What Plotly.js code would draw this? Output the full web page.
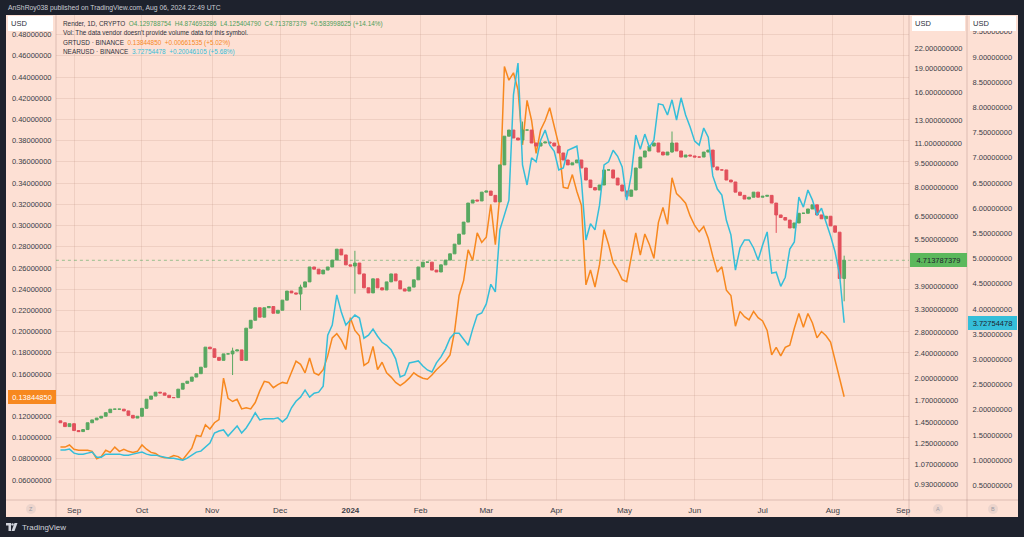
<!DOCTYPE html>
<html>
<head>
<meta charset="utf-8">
<script src="https://cdn.plot.ly/plotly-3.0.1.min.js"></script>
<style>
  html, body { margin: 0; padding: 0; background: #1e222d; }
  #chart { width: 1024px; height: 537px; }
</style>
</head>
<body>
<div id="chart"></div>
<script>
// Render (velas cada 2 dias, escala log) + GRT y NEAR como lineas de comparacion
const START_DATE = '2023-08-26';
const STEP_DAYS = 2;

const renderFirstOpen = 1.47;
const renderClose = [
  1.45, 1.41, 1.44, 1.37, 1.36, 1.38, 1.45, 1.48, 1.50, 1.52,
  1.56, 1.60, 1.60, 1.60, 1.58, 1.53, 1.50, 1.52, 1.61, 1.72,
  1.76, 1.81, 1.80, 1.77, 1.74, 1.74, 1.85, 1.93, 1.96, 2.02,
  2.07, 2.17, 2.51, 2.48, 2.33, 2.28, 2.39, 2.39, 2.44, 2.46,
  2.28, 2.88, 3.05, 3.34, 3.12, 3.34, 3.37, 3.21, 3.28, 3.53,
  3.77, 3.72, 3.69, 3.88, 4.03, 4.49, 4.42, 4.27, 4.39, 4.49,
  4.72, 5.11, 4.90, 4.56, 4.52, 4.62, 4.27, 3.86, 3.72, 4.12,
  3.86, 3.80, 4.03, 4.27, 4.06, 3.83, 3.77, 3.88, 4.09, 4.49,
  4.65, 4.65, 4.39, 4.33, 4.56, 4.72, 4.94, 5.30, 5.70, 6.22,
  7.14, 7.30, 7.25, 7.73, 7.79, 7.55, 7.20, 9.42, 11.60, 12.13,
  11.45, 11.28, 12.13, 12.13, 11.04, 10.80, 11.04, 11.12, 11.04, 10.80,
  10.27, 9.76, 9.42, 9.56, 9.76, 9.21, 8.44, 7.99, 7.85, 8.14,
  9.08, 9.08, 8.56, 8.14, 7.79, 7.50, 7.85, 9.21, 9.97, 10.42,
  10.80, 11.04, 10.34, 10.12, 10.34, 11.04, 10.42, 9.97, 10.12, 10.05,
  9.97, 9.97, 10.34, 10.49, 9.28, 9.08, 9.08, 8.44, 8.32, 7.73,
  7.55, 7.35, 7.45, 7.73, 7.45, 7.50, 7.55, 7.14, 6.55, 6.43,
  6.31, 5.96, 6.18, 6.63, 6.63, 6.84, 7.05, 6.55, 6.37, 6.49,
  6.05, 5.78, 4.13, 4.713787379
];
// mechas visibles [alto, bajo]
const renderWicks = {
  '2023-11-10': [2.50, 2.05],
  '2023-12-10': [3.95, 3.28],
  '2024-01-03': [5.05, 3.70],
  '2024-03-17': [12.9, 11.0],
  '2024-05-22': [12.0, 10.3],
  '2024-07-07': [7.0, 5.75],
  '2024-08-06': [4.874693286, 3.50]
};

const grtClose = [
  0.091, 0.091, 0.093, 0.089, 0.088, 0.088, 0.088, 0.087, 0.080, 0.082,
  0.088, 0.086, 0.091, 0.087, 0.089, 0.087, 0.086, 0.087, 0.093, 0.089,
  0.086, 0.085, 0.082, 0.081, 0.081, 0.083, 0.082, 0.079, 0.085, 0.090,
  0.102, 0.101, 0.112, 0.108, 0.114, 0.117, 0.156, 0.137, 0.134, 0.136,
  0.127, 0.128, 0.127, 0.133, 0.144, 0.153, 0.152, 0.147, 0.150, 0.152,
  0.151, 0.162, 0.172, 0.169, 0.161, 0.175, 0.161, 0.159, 0.164, 0.177,
  0.194, 0.198, 0.192, 0.183, 0.213, 0.201, 0.196, 0.168, 0.171, 0.186,
  0.164, 0.171, 0.161, 0.157, 0.152, 0.149, 0.152, 0.156, 0.161, 0.158,
  0.156, 0.155, 0.159, 0.164, 0.168, 0.172, 0.178, 0.200, 0.234, 0.248,
  0.277, 0.267, 0.293, 0.284, 0.289, 0.320, 0.282, 0.329, 0.450, 0.437,
  0.444, 0.428, 0.376, 0.418, 0.399, 0.368, 0.390, 0.399, 0.411, 0.392,
  0.376, 0.336, 0.335, 0.348, 0.332, 0.319, 0.244, 0.258, 0.242, 0.263,
  0.296, 0.282, 0.265, 0.258, 0.249, 0.247, 0.270, 0.293, 0.272, 0.292,
  0.282, 0.269, 0.303, 0.317, 0.301, 0.345, 0.330, 0.326, 0.321, 0.309,
  0.300, 0.294, 0.299, 0.288, 0.271, 0.256, 0.261, 0.239, 0.234, 0.205,
  0.219, 0.214, 0.211, 0.219, 0.213, 0.210, 0.201, 0.178, 0.185, 0.177,
  0.185, 0.187, 0.203, 0.217, 0.204, 0.217, 0.208, 0.194, 0.200, 0.196,
  0.190, 0.173, 0.154, 0.13844850
];

const nearClose = [
  1.20, 1.20, 1.22, 1.14, 1.12, 1.12, 1.14, 1.16, 1.06, 1.06,
  1.12, 1.12, 1.12, 1.12, 1.10, 1.10, 1.12, 1.14, 1.16, 1.12,
  1.10, 1.10, 1.08, 1.06, 1.04, 1.04, 1.02, 1.00, 1.04, 1.10,
  1.16, 1.18, 1.26, 1.34, 1.54, 1.58, 1.60, 1.48, 1.58, 1.68,
  1.54, 1.64, 1.78, 1.94, 1.80, 1.82, 1.82, 1.82, 1.84, 1.76,
  1.84, 2.04, 2.17, 2.25, 2.39, 2.25, 2.33, 2.35, 2.47, 3.48,
  3.68, 4.28, 3.94, 3.68, 3.78, 3.88, 3.82, 3.42, 3.48, 3.60,
  3.46, 3.34, 3.28, 3.19, 3.01, 2.65, 2.69, 2.93, 2.95, 2.97,
  2.87, 2.79, 2.75, 2.93, 3.05, 3.21, 3.42, 3.52, 3.52, 3.40,
  3.28, 3.60, 3.88, 3.92, 4.10, 4.49, 4.34, 5.57, 5.86, 6.16,
  8.25, 8.88, 6.86, 6.46, 7.00, 6.92, 7.35, 7.55, 7.25, 7.13,
  6.76, 6.80, 7.15, 7.19, 7.23, 6.56, 5.37, 5.69, 5.57, 6.06,
  6.86, 6.92, 7.15, 7.03, 6.82, 6.16, 6.66, 7.45, 7.17, 7.47,
  7.21, 7.35, 8.07, 8.05, 7.85, 8.15, 7.75, 8.19, 7.85, 7.61,
  7.33, 7.25, 7.59, 7.41, 6.64, 6.38, 6.26, 5.76, 5.47, 4.77,
  5.21, 5.37, 5.37, 5.21, 4.97, 5.27, 5.53, 4.71, 4.73, 4.45,
  4.63, 5.19, 5.33, 6.22, 6.02, 6.36, 6.16, 5.86, 6.00, 5.72,
  5.45, 5.13, 4.67, 3.72754478
];

const monthTicks = ['2023-09-01', '2023-10-01', '2023-11-01', '2023-12-01', '2024-01-01', '2024-02-01',
  '2024-03-01', '2024-04-01', '2024-05-01', '2024-06-01', '2024-07-01', '2024-08-01', '2024-09-01'];
const monthLabels = ['Sep', 'Oct', 'Nov', 'Dec', '<b>2024</b>', 'Feb', 'Mar', 'Apr', 'May', 'Jun', 'Jul', 'Aug', 'Sep'];
const grtTicks = [0.06, 0.08, 0.10, 0.12, 0.14, 0.16, 0.18, 0.20, 0.22, 0.24, 0.26, 0.28, 0.30,
  0.32, 0.34, 0.36, 0.38, 0.40, 0.42, 0.44, 0.46, 0.48];
const renderTicks = [0.93, 1.07, 1.25, 1.45, 1.7, 2.0, 2.4, 2.8, 3.3, 3.9, 5.5, 6.5, 8, 9.5, 11, 13, 16, 19, 22];
const nearTicks = [0.5, 1.0, 1.5, 2.0, 2.5, 3.0, 3.5, 4.0, 4.5, 5.0, 5.5, 6.0, 6.5, 7.0, 7.5, 8.0, 8.5, 9.0, 9.5];

// colores
const PEACH = '#fde0d4';
const FRAME = '#1e222d';
const GRID = 'rgba(185,140,125,0.20)';
const SEP = 'rgba(150,110,100,0.30)';
const TXT = '#3a3d47';
const GREEN = '#59a861';
const RED = '#e2505c';
const ORANGE = '#f7881f';
const CYAN = '#35bed9';
const FONT = 'Liberation Sans, Arial, sans-serif';

// geometria: pixeles -> coordenadas paper
const W = 1024, H = 537;
const M = { l: 56, r: 57, t: 15, b: 37 };
const PW = W - M.l - M.r;
const PH = H - M.t - M.b;
const px = x => (x - M.l) / PW;
const py = y => (H - M.b - y) / PH;

function fechas(n) {
  const out = [];
  const t0 = Date.parse(START_DATE + 'T00:00:00Z');
  for (let i = 0; i < n; i++) {
    out.push(new Date(t0 + i * STEP_DAYS * 86400000).toISOString().slice(0, 10));
  }
  return out;
}

const dates = fechas(renderClose.length);
const opens = renderClose.map((c, i) => (i === 0 ? renderFirstOpen : renderClose[i - 1]));
const highs = renderClose.map((c, i) => {
  const w = renderWicks[dates[i]];
  return w ? w[0] : Math.max(c, opens[i]);
});
const lows = renderClose.map((c, i) => {
  const w = renderWicks[dates[i]];
  return w ? w[1] : Math.min(c, opens[i]);
});

const lastRender = renderClose[renderClose.length - 1];
const lastGrt = grtClose[grtClose.length - 1];
const lastNear = nearClose[nearClose.length - 1];

const lineaGrt = {
  type: 'scatter', mode: 'lines', x: dates, y: grtClose,
  xaxis: 'x', yaxis: 'y',
  line: { color: ORANGE, width: 1.5 },
  hoverinfo: 'skip'
};

const velasRender = {
  type: 'candlestick', x: dates,
  open: opens, high: highs, low: lows, close: renderClose,
  xaxis: 'x', yaxis: 'y2',
  increasing: { line: { color: GREEN, width: 1 }, fillcolor: GREEN },
  decreasing: { line: { color: RED, width: 1 }, fillcolor: RED },
  whiskerwidth: 0,
  hoverinfo: 'skip'
};

const lineaNear = {
  type: 'scatter', mode: 'lines', x: dates, y: nearClose,
  xaxis: 'x', yaxis: 'y3',
  line: { color: CYAN, width: 1.5 },
  hoverinfo: 'skip'
};

// linea punteada horizontal en el ultimo cierre de Render (como traza, en el eje log)
const lineaUltimo = {
  type: 'scatter', mode: 'lines',
  x: ['2023-08-24', '2024-09-04'], y: [lastRender, lastRender],
  xaxis: 'x', yaxis: 'y2',
  line: { color: 'rgba(89,168,97,0.6)', width: 1, dash: 'dot' },
  hoverinfo: 'skip'
};

const tickFont = { family: FONT, size: 7.5, color: TXT };

function cajaUsd(x0, x1) {
  return {
    xref: 'paper', yref: 'paper', x: px(x0), y: py(23.5),
    xanchor: 'left', yanchor: 'middle',
    text: 'USD', align: 'left', showarrow: false,
    width: x1 - x0 - 6, height: 9, borderpad: 2,
    bgcolor: '#ffffff', bordercolor: '#ffffff',
    font: { family: FONT, size: 7.5, color: '#2a2e39' }
  };
}

function etiquetaPrecio(x0, x1, yref, y, texto, fondo, color) {
  return {
    xref: 'paper', yref: yref, x: px(x0), y: y,
    xanchor: 'left', yanchor: 'middle',
    text: texto, align: 'center', showarrow: false,
    width: x1 - x0 - 4, height: 9, borderpad: 1.5,
    bgcolor: fondo, bordercolor: fondo,
    font: { family: FONT, size: 7.5, color: color }
  };
}

function letraEscala(x, letra) {
  return {
    xref: 'paper', yref: 'paper', x: px(x), y: py(509),
    xanchor: 'center', yanchor: 'middle', showarrow: false,
    text: letra, font: { family: FONT, size: 5.5, color: '#9a9aa3' }
  };
}

function circulo(x) {
  return {
    type: 'circle', xref: 'paper', yref: 'paper', layer: 'above',
    x0: px(x - 5), x1: px(x + 5), y0: py(514), y1: py(504),
    fillcolor: 'rgba(160,160,170,0.18)', line: { width: 0 }
  };
}

function lineaLeyenda(y, texto) {
  return {
    xref: 'paper', yref: 'paper', x: px(61), y: py(y),
    xanchor: 'left', yanchor: 'middle', showarrow: false, align: 'left',
    text: texto, font: { family: FONT, size: 6.4, color: '#2e313b' }
  };
}

const layout = {
  width: W, height: H,
  margin: M,
  paper_bgcolor: FRAME,
  plot_bgcolor: 'rgba(0,0,0,0)',
  showlegend: false,
  hovermode: false,
  boxgap: 0.12,
  font: { family: FONT, color: TXT },
  xaxis: {
    type: 'date',
    domain: [0, px(909)],
    range: ['2023-08-24 01:00', '2024-09-03 15:00'],
    tickvals: monthTicks, ticktext: monthLabels,
    tickfont: { family: FONT, size: 8, color: TXT },
    ticks: 'outside', ticklen: 2, tickcolor: 'rgba(0,0,0,0)',
    showgrid: true, gridcolor: GRID, gridwidth: 1,
    zeroline: false, showline: false,
    rangeslider: { visible: false }
  },
  yaxis: {
    range: [0.0411, 0.4985],
    side: 'left',
    tickvals: grtTicks, ticktext: grtTicks.map(v => v.toFixed(8)),
    tickfont: tickFont,
    ticks: 'outside', ticklen: 2, tickcolor: 'rgba(0,0,0,0)',
    showgrid: true, gridcolor: GRID, gridwidth: 1,
    zeroline: false, showline: false
  },
  yaxis2: {
    type: 'log',
    overlaying: 'y', side: 'right', anchor: 'x',
    range: [-0.0821, 1.4464],
    tickvals: renderTicks, ticktext: renderTicks.map(v => v.toFixed(9)),
    tickfont: tickFont,
    ticks: 'outside', ticklen: 3, tickcolor: 'rgba(0,0,0,0)',
    showgrid: false, zeroline: false, showline: false
  },
  yaxis3: {
    overlaying: 'y', side: 'right', anchor: 'free', position: 1,
    range: [0.21, 9.833],
    tickvals: nearTicks, ticktext: nearTicks.map(v => v.toFixed(8)),
    tickfont: tickFont,
    ticks: 'outside', ticklen: 3, tickcolor: 'rgba(0,0,0,0)',
    showgrid: false, zeroline: false, showline: false
  },
  shapes: [
    // panel de fondo (color durazno) detras de todo
    {
      type: 'rect', xref: 'paper', yref: 'paper', layer: 'below',
      x0: px(6), x1: px(1018), y0: py(517), y1: py(15),
      fillcolor: PEACH, line: { width: 0 }
    },
    // separadores de escalas
    { type: 'line', xref: 'paper', yref: 'paper', layer: 'below', x0: px(56), x1: px(56), y0: py(517), y1: py(15), line: { color: SEP, width: 1 } },
    { type: 'line', xref: 'paper', yref: 'paper', layer: 'below', x0: px(909), x1: px(909), y0: py(517), y1: py(15), line: { color: SEP, width: 1 } },
    { type: 'line', xref: 'paper', yref: 'paper', layer: 'below', x0: px(967), x1: px(967), y0: py(517), y1: py(15), line: { color: SEP, width: 1 } },
    { type: 'line', xref: 'paper', yref: 'paper', layer: 'below', x0: px(6), x1: px(1018), y0: py(500), y1: py(500), line: { color: SEP, width: 1 } },
    circulo(31), circulo(938), circulo(993),
    // logo TradingView (aprox.)
    {
      type: 'path', xref: 'paper', yref: 'paper', layer: 'above',
      path: `M ${px(6)} ${py(523)} L ${px(11)} ${py(523)} L ${px(11)} ${py(531)} L ${px(8.5)} ${py(531)} L ${px(8.5)} ${py(525.5)} L ${px(6)} ${py(525.5)} Z`,
      fillcolor: '#d1d4dc', line: { width: 0 }
    },
    {
      type: 'path', xref: 'paper', yref: 'paper', layer: 'above',
      path: `M ${px(14.5)} ${py(523)} L ${px(17.5)} ${py(523)} L ${px(14.5)} ${py(531)} L ${px(11.5)} ${py(531)} Z`,
      fillcolor: '#d1d4dc', line: { width: 0 }
    },
    {
      type: 'circle', xref: 'paper', yref: 'paper', layer: 'above',
      x0: px(11.3), x1: px(13.7), y0: py(525.6), y1: py(523.2),
      fillcolor: '#d1d4dc', line: { width: 0 }
    }
  ],
  annotations: [
    {
      xref: 'paper', yref: 'paper', x: px(6), y: py(7.5),
      xanchor: 'left', yanchor: 'middle', showarrow: false,
      text: 'AnShRoy038 published on TradingView.com, Aug 06, 2024 22:49 UTC',
      font: { family: FONT, size: 6.8, color: '#c9ccd4' }
    },
    lineaLeyenda(24, `Render, 1D, CRYPTO&nbsp; <span style="color:#4f9e5a">O4.129788754&nbsp; H4.874693286&nbsp; L4.125404790&nbsp; C4.713787379&nbsp; +0.583998625 (+14.14%)</span>`),
    lineaLeyenda(33.5, "Vol: The data vendor doesn't provide volume data for this symbol."),
    lineaLeyenda(43, `GRTUSD · BINANCE&nbsp; <span style="color:${ORANGE}">${lastGrt.toFixed(8)}&nbsp; +0.00661535 (+5.02%)</span>`),
    lineaLeyenda(52.5, `NEARUSD · BINANCE&nbsp; <span style="color:${CYAN}">${lastNear.toFixed(8)}&nbsp; +0.20046105 (+5.68%)</span>`),
    cajaUsd(8, 53), cajaUsd(912, 965), cajaUsd(970, 1016),
    etiquetaPrecio(8, 55, 'y', lastGrt, lastGrt.toFixed(8), ORANGE, '#ffffff'),
    etiquetaPrecio(910, 966, 'y2', Math.log10(lastRender), lastRender.toFixed(9), '#5cb85c', '#1e222d'),
    etiquetaPrecio(968, 1016, 'y3', lastNear, lastNear.toFixed(8), CYAN, '#1e222d'),
    letraEscala(31, 'Z'), letraEscala(938, 'A'), letraEscala(993, 'B'),
    {
      xref: 'paper', yref: 'paper', x: px(20), y: py(527),
      xanchor: 'left', yanchor: 'middle', showarrow: false,
      text: 'TradingView', font: { family: FONT, size: 8, color: '#d1d4dc' }
    }
  ]
};

Plotly.newPlot('chart', [lineaGrt, lineaUltimo, velasRender, lineaNear], layout, { staticPlot: true, displayModeBar: false });
</script>
</body>
</html>
